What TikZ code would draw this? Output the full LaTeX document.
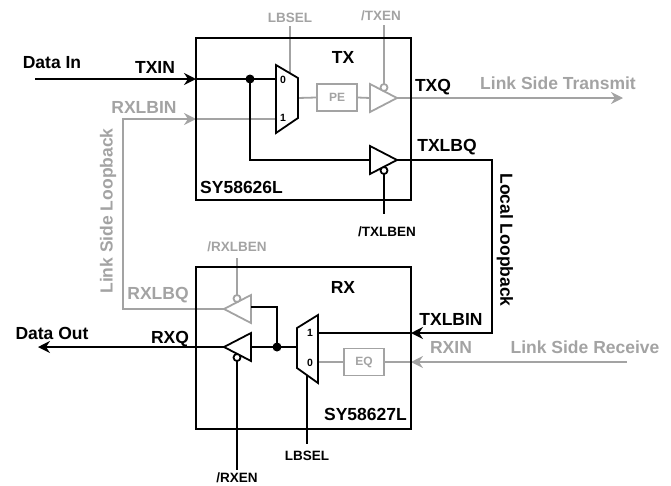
\documentclass[tikz,border=0pt]{standalone}
\usepackage{fontspec}
\setmainfont{Liberation Sans}
\usetikzlibrary{arrows.meta}
\definecolor{lsgray}{HTML}{A3A3A3}
\pgfdeclarelayer{back}
\pgfsetlayers{back,main}

\tikzset{
  wire/.style={line width=1.8pt},
  gwire/.style={wire, draw=lsgray},
  arr/.style={-{Stealth[length=12pt,width=12pt,inset=4pt]}},
  lbl/.style={font=\fontsize{17.5}{17.5}\selectfont\bfseries, inner sep=0pt},
  glbl/.style={lbl, text=lsgray},
  pin/.style={font=\fontsize{13.5}{13.5}\selectfont\bfseries, inner sep=0pt},
  gpin/.style={pin, text=lsgray},
  digit/.style={font=\fontsize{10.5}{10.5}\selectfont\bfseries, inner sep=0pt},
  gbox/.style={gwire, text=lsgray, font=\fontsize{12}{12}\selectfont\bfseries,
    minimum width=40pt, minimum height=27pt, inner sep=0pt},
  bubble/.style={wire, fill=white},
}

\begin{document}
\begin{tikzpicture}[x=1pt,y=-1pt]
\useasboundingbox (0,0) rectangle (671,485);

% TX chip
\draw[wire] (196,38) rectangle (411,200);
\node[lbl] (txname) at (343,57) {TX};
\node[lbl, anchor=west] (txpart) at (200,187) {SY58626L};
\coordinate (txin) at (196,79);
\coordinate (rxlbin) at (196,119);
\coordinate (txq) at (411,98);
\coordinate (txlbq) at (411,160);

% TX mux
\draw[wire] (276,65) -- (298,78) -- (298,118) -- (276,133) -- cycle;
\node[digit] at (283,80) {0};
\node[digit] at (283,118) {1};
\coordinate (txm0) at (276,79);
\coordinate (txm1) at (276,119);
\coordinate (txmout) at (298,98);
\coordinate (txmsel) at (290,73);
\coordinate (txseltop) at (290,26);
\node[gpin] (txlbsel) at (290,18) {LBSEL};

\node[gbox, draw] (pe) at (337,97.5) {PE};

% TX line buffer
\draw[gwire] (370,84) -- (397,98) -- (370,112) -- cycle;
\draw[bubble, draw=lsgray] (384,87.5) circle (3.5);
\coordinate (txbin) at (370,98);
\coordinate (txbout) at (397,98);
\coordinate (txen) at (384,84);
\coordinate (txentop) at (384,25);
\node[gpin] (txenlbl) at (381,16) {/TXEN};

% TX loopback buffer
\draw[wire] (370,146) -- (397,160) -- (370,174) -- cycle;
\draw[bubble] (384,170.5) circle (3.5);
\coordinate (txlbin) at (370,160);
\coordinate (txlbout) at (397,160);
\coordinate (txlben) at (384,174);
\coordinate (txlbenend) at (384,214);
\node[pin] (txlbenlbl) at (387,232) {/TXLBEN};

\fill (250,79) circle (4.5) coordinate (txdot);

% RX chip
\draw[wire] (196,267) rectangle (411,429);
\node[lbl] (rxname) at (343,287) {RX};
\node[lbl, anchor=east] (rxpart) at (407,414) {SY58627L};
\coordinate (rxtxlbin) at (411,333);
\coordinate (rxin) at (411,362);

% RX mux
\draw[wire] (297,328) -- (318,315) -- (318,383) -- (297,368) -- cycle;
\node[digit] at (310,333) {1};
\node[digit] at (310,363) {0};
\coordinate (rxm1) at (318,333);
\coordinate (rxm0) at (318,362);
\coordinate (rxmout) at (297,347);
\coordinate (rxmsel) at (307,375);
\coordinate (rxselend) at (307,444);
\node[pin] (rxlbsel) at (307,456) {LBSEL};

\node[gbox, draw] (eq) at (364,362) {EQ};

% RX loopback buffer
\draw[gwire] (251,295) -- (224,309) -- (251,323) -- cycle;
\draw[bubble, draw=lsgray] (237,298.5) circle (3.5);
\coordinate (rxlbbin) at (251,307);
\coordinate (rxlbout) at (224,309);
\coordinate (rxlben) at (237,295);
\coordinate (rxlbentop) at (237,258);
\node[gpin] (rxlbenlbl) at (237,247) {/RXLBEN};

% RX output buffer
\draw[wire] (251,333) -- (224,347) -- (251,361) -- cycle;
\draw[bubble] (237,357.5) circle (3.5);
\coordinate (rxbin) at (251,347);
\coordinate (rxbout) at (224,347);
\coordinate (rxen) at (237,361);
\coordinate (rxenend) at (237,470);
\node[pin] (rxenlbl) at (237,478) {/RXEN};

\fill (277,347) circle (4.5) coordinate (rxdot);

% wires
\coordinate (datain) at (35,79);
\coordinate (dataout) at (38,347);
\coordinate (lstx) at (623,98);
\coordinate (lsrx) at (627,362);
\begin{pgfonlayer}{back}
  \draw[gwire] (txmsel) -- (txseltop);
  \draw[gwire] (txmout) -- (pe.west);
  \draw[gwire] (pe.east) -- (txbin);
  \draw[gwire] (txen) -- (txentop);
  \draw[gwire, arr] (txbout) -- (lstx);
  \draw[gwire, arr] (rxlbout) -| (123,119) -- (rxlbin);
  \draw[gwire] (rxlbin) -- (txm1);
  \draw[gwire] (rxlben) -- (rxlbentop);
  \draw[gwire, arr] (lsrx) -- (rxin);
  \draw[gwire] (rxin) -- (eq.east);
  \draw[gwire] (eq.west) -- (rxm0);
\end{pgfonlayer}
\draw[wire, arr] (datain) -- (txin);
\draw[wire] (txin) -- (txm0);
\draw[wire] (txdot) |- (txlbin);
\draw[wire] (txlben) -- (txlbenend);
\draw[wire, arr] (txlbout) -| (492,333) -- (rxtxlbin);
\draw[wire] (rxtxlbin) -- (rxm1);
\draw[wire] (rxlbbin) -| (rxdot);
\draw[wire] (rxmout) -- (rxbin);
\draw[wire, arr] (rxbout) -- (dataout);
\draw[wire] (rxmsel) -- (rxselend);
\draw[wire] (rxen) -- (rxenend);

% labels
\node[lbl] (datainlbl) at (52,63) {Data In};
\node[lbl] (txinlbl) at (155,67) {TXIN};
\node[glbl] (rxlbinlbl) at (144,107) {RXLBIN};
\node[lbl] (txqlbl) at (433,87) {TXQ};
\node[glbl] (lstxlbl) at (558,83) {Link Side Transmit};
\node[lbl] (txlbqlbl) at (447,147) {TXLBQ};
\node[lbl, rotate=-90] (loclbl) at (505,240) {Local Loopback};
\node[glbl, rotate=90] (lslblbl) at (108,211) {Link Side Loopback};
\node[glbl] (rxlbqlbl) at (158,295) {RXLBQ};
\node[lbl] (dataoutlbl) at (52,333) {Data Out};
\node[lbl] (rxqlbl) at (170,339) {RXQ};
\node[lbl] (txlbinlbl) at (451,319) {TXLBIN};
\node[glbl] (rxinlbl) at (451,347) {RXIN};
\node[glbl] (lsrxlbl) at (585,347) {Link Side Receive};
\end{tikzpicture}
\end{document}
